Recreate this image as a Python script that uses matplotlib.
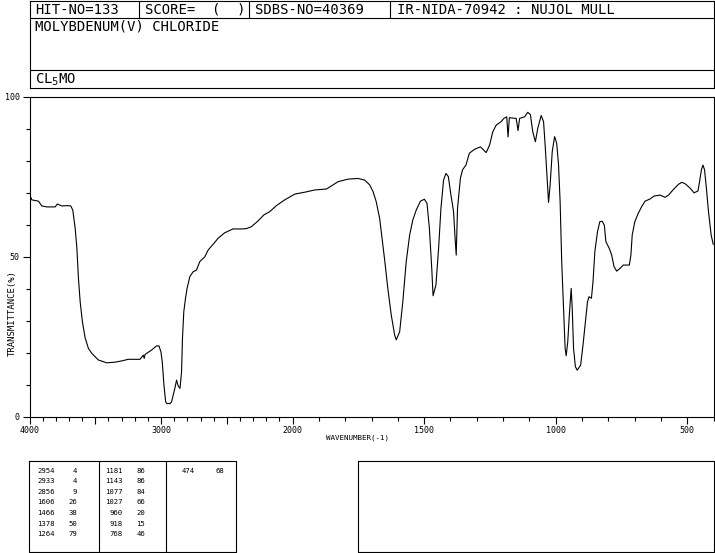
import numpy as np
import matplotlib
matplotlib.use("Agg")
import matplotlib.pyplot as plt
from matplotlib.ticker import FixedLocator, FixedFormatter

plt.rcParams['font.family'] = ['DejaVu Sans Mono']

# ---------------- data ----------------
wavenumber = [4000, 3982, 3932, 3906, 3868, 3805, 3788, 3754, 3712, 3686, 3671, 3653, 3640,
              3628, 3615, 3598, 3577, 3552, 3527, 3477, 3413, 3350, 3299, 3249, 3160, 3135,
              3128, 3122, 3072, 3034, 3016, 3001, 2991, 2978, 2965, 2954, 2940, 2933, 2920,
              2895, 2882, 2870, 2856, 2844, 2837, 2827, 2814, 2802, 2781, 2756, 2731, 2705,
              2667, 2642, 2604, 2566, 2516, 2453, 2389, 2351, 2313, 2263, 2218, 2174, 2123,
              2060, 1992, 1954, 1916, 1871, 1852, 1827, 1789, 1751, 1726, 1707, 1694, 1682,
              1669, 1660, 1650, 1638, 1625, 1612, 1606, 1593, 1581, 1568, 1555, 1543, 1530,
              1514, 1499, 1489, 1480, 1471, 1466, 1455, 1445, 1436, 1426, 1417, 1408, 1398,
              1388, 1383, 1378, 1373, 1362, 1354, 1341, 1328, 1309, 1286, 1274, 1264, 1251,
              1239, 1226, 1207, 1197, 1186, 1181, 1176, 1150, 1143, 1137, 1118, 1106, 1096,
              1087, 1077, 1068, 1055, 1046, 1040, 1034, 1027, 1021, 1013, 1004, 996, 989,
              983, 977, 970, 964, 960, 954, 948, 941, 937, 932, 925, 918, 905, 896, 887,
              879, 873, 864, 858, 851, 841, 832, 823, 815, 809, 796, 787, 778, 768, 756,
              743, 720, 714, 709, 699, 686, 673, 660, 641, 626, 603, 584, 571, 552, 533,
              520, 507, 488, 474, 459, 453, 446, 440, 434, 427, 419, 409, 401]
transmittance = [69.5, 67.8, 67.4, 65.9, 65.6, 65.6, 66.5, 65.9, 66.0, 65.9, 64.6, 59.0, 52.8,
                 43.3, 36.0, 29.7, 24.6, 21.3, 19.8, 17.7, 16.8, 17.0, 17.4, 17.9, 17.9, 19.2,
                 18.2, 19.4, 20.8, 22.1, 22.1, 20.3, 17.2, 9.9, 4.6, 4.0, 4.1, 4.0, 4.6,
                 8.8, 11.4, 9.6, 8.8, 14.0, 24.5, 32.8, 37.0, 40.1, 43.8, 45.3, 45.8, 48.5,
                 50.0, 52.1, 53.9, 55.8, 57.5, 58.7, 58.7, 58.8, 59.4, 61.2, 63.1, 64.1, 66.0,
                 67.8, 69.6, 70.2, 70.9, 71.2, 72.2, 73.5, 74.3, 74.5, 74.0, 72.5, 70.4, 67.2,
                 62.0, 55.8, 49.0, 40.1, 31.8, 25.5, 24.0, 26.5, 35.9, 48.5, 56.8, 61.5, 64.6,
                 67.4, 68.0, 66.7, 58.9, 46.4, 37.8, 41.2, 52.6, 65.2, 74.0, 76.1, 75.1, 69.3,
                 64.1, 56.8, 50.5, 65.2, 74.6, 77.2, 78.7, 82.4, 83.6, 84.4, 83.4, 82.6, 85.0,
                 89.1, 91.2, 92.3, 93.3, 93.8, 87.5, 93.5, 93.3, 89.5, 93.3, 93.8, 95.2, 94.5,
                 89.1, 86.0, 90.2, 94.2, 92.3, 85.0, 76.6, 67.0, 72.5, 82.9, 87.6, 85.5, 78.7,
                 67.2, 48.5, 33.9, 21.3, 19.0, 23.4, 31.8, 40.1, 33.9, 21.3, 15.6, 14.5, 16.1, 22.4, 29.7,
                 35.9, 37.5, 37.0, 42.2, 51.6, 57.8, 61.0, 61.1, 59.9, 54.7, 52.6, 50.5, 46.9, 45.5, 46.3,
                 47.4, 47.4, 50.5, 56.8, 61.0, 63.6, 65.7, 67.4, 68.1, 69.0, 69.3, 68.6, 69.3, 71.1, 72.7,
                 73.3, 72.8, 71.4, 70.0, 70.6, 73.5, 77.2, 78.7, 77.2, 71.4, 64.1, 56.8, 53.9]

x_major_ticks = [4000, 3500, 3000, 2500, 2000, 1500, 1000, 500]
x_major_labels = ['4000', '', '3000', '', '2000', '1500', '1000', '500']
y_major_ticks = [0, 50, 100]
y_major_labels = ['0', '50', '100']

header_row1 = ["HIT-NO=133", "SCORE=  (  )", "SDBS-NO=40369", "IR-NIDA-70942 : NUJOL MULL"]
compound_name = "MOLYBDENUM(V) CHLORIDE"
formula_text = r"CL$_5$MO"
x_label = "WAVENUMBER(-1)"
y_label = "TRANSMITTANCE(%)"

peak_wn_1 = [2954, 2933, 2856, 1606, 1466, 1378, 1264]
peak_t_1 = [4, 4, 9, 26, 38, 50, 79]
peak_wn_2 = [1181, 1143, 1077, 1027, 960, 918, 768]
peak_t_2 = [86, 86, 84, 66, 20, 15, 46]
peak_wn_3 = [474]
peak_t_3 = [68]

# ---------------- figure ----------------
W, H = 715, 553
fig = plt.figure(figsize=(W / 100, H / 100), dpi=100)

ax_l, ax_r, ax_t, ax_b = 29.5, 713.5, 97.0, 416.5
ax = fig.add_axes([ax_l / W, (H - ax_b) / H, (ax_r - ax_l) / W, (ax_b - ax_t) / H])


def fwd(w):
    # monotonic increasing; 4000-2000 region compressed by factor 2
    w = np.asarray(w, dtype=float)
    return np.where(w >= 2000, 1600 + (w - 2000) / 2.0, w - 400)


def inv(u):
    u = np.asarray(u, dtype=float)
    return np.where(u >= 1600, 2000 + 2 * (u - 1600), u + 400)


ax.set_xscale('function', functions=(fwd, inv))
ax.plot(wavenumber, transmittance, color='black', lw=0.8)
ax.set_xlim(4000, 400)
ax.set_ylim(0, 100)

ax.xaxis.set_major_locator(FixedLocator(x_major_ticks))
ax.xaxis.set_major_formatter(FixedFormatter(x_major_labels))
ax.xaxis.set_minor_locator(FixedLocator(np.arange(400, 4001, 100)))
ax.xaxis.set_minor_formatter(FixedFormatter([]))
ax.yaxis.set_major_locator(FixedLocator(y_major_ticks))
ax.yaxis.set_major_formatter(FixedFormatter(y_major_labels))
ax.yaxis.set_minor_locator(FixedLocator(np.arange(0, 101, 10)))
ax.tick_params(axis='both', which='major', length=5, width=0.8, direction='out',
               labelsize=6, pad=2)
ax.tick_params(axis='both', which='minor', length=3, width=0.8, direction='out')
for s in ax.spines.values():
    s.set_linewidth(0.8)

# overlay in pixel coordinates for header / table
ov = fig.add_axes([0, 0, 1, 1], facecolor='none')
ov.set_xlim(0, W)
ov.set_ylim(H, 0)
ov.axis('off')
lw = 0.8
k = 'black'

# header box
bx0, bx1 = 29.7, 713.8
for y in [0.6, 18, 70, 88]:
    ov.plot([bx0, bx1], [y, y], color=k, lw=lw)
ov.plot([bx0, bx0], [0.6, 88], color=k, lw=lw)
ov.plot([bx1, bx1], [0.6, 88], color=k, lw=lw)
for xs in [139, 249, 390]:
    ov.plot([xs, xs], [0.6, 18], color=k, lw=lw)
for xt, txt in zip([35, 145, 255, 397], header_row1):
    ov.text(xt, 9.5, txt, fontsize=10, va='center', ha='left')
ov.text(35, 26.5, compound_name, fontsize=10, va='center', ha='left')
ov.text(35, 79.5, formula_text, fontsize=10, va='center', ha='left')

# axis labels
ov.text(357, 437.5, x_label, fontsize=5.4, ha='center', va='center')
ov.text(12, 313, y_label, fontsize=6.4, ha='center', va='center', rotation=90)

# peak table
tx0, tx1, ty0, ty1 = 29.3, 235.7, 460.7, 552.3
ov.plot([tx0, tx1, tx1, tx0, tx0], [ty0, ty0, ty1, ty1, ty0], color=k, lw=lw)
for xs in [98.7, 166.3]:
    ov.plot([xs, xs], [ty0, ty1], color=k, lw=lw)
row_y = [470.7, 481.3, 491.9, 502.5, 513.1, 523.7, 534.3]
cols = [(peak_wn_1, peak_t_1, 55, 77.3),
        (peak_wn_2, peak_t_2, 122.7, 145),
        (peak_wn_3, peak_t_3, 194.3, 224)]
for wns, ts, xw, xtv in cols:
    for i, (wv, tv) in enumerate(zip(wns, ts)):
        ov.text(xw, row_y[i], str(wv), fontsize=5.2, ha='right', va='center')
        ov.text(xtv, row_y[i], str(tv), fontsize=5.2, ha='right', va='center')

# empty right box
rx0, rx1 = 358.0, 713.8
ov.plot([rx0, rx1, rx1, rx0, rx0], [ty0, ty0, ty1, ty1, ty0], color=k, lw=lw)

fig.savefig("out.png", dpi=100)
